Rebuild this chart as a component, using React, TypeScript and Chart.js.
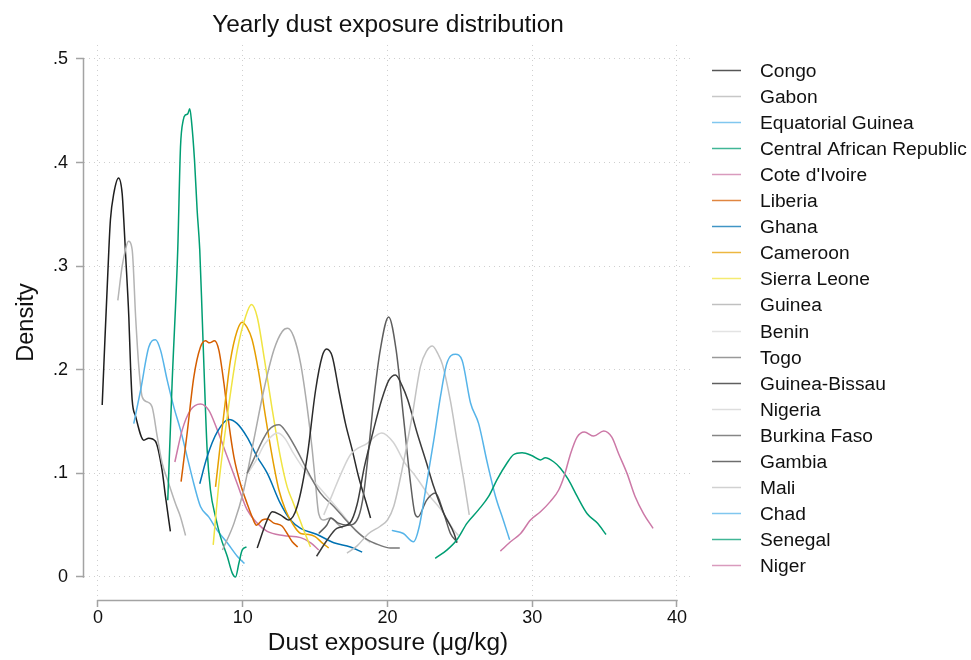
import React, { useEffect, useRef } from 'react';
import { Chart, registerables } from 'chart.js';

Chart.register(...registerables);

const FONT = "'Liberation Sans', Arial, Helvetica, sans-serif";

const seriesNames = [
  'Congo', 'Gabon', 'Equatorial Guinea', 'Central African Republic', "Cote d'Ivoire",
  'Liberia', 'Ghana', 'Cameroon', 'Sierra Leone', 'Guinea',
  'Benin', 'Togo', 'Guinea-Bissau', 'Nigeria', 'Burkina Faso',
  'Gambia', 'Mali', 'Chad', 'Senegal', 'Niger',
];

const seriesColors = [
  '#1e1e1e', '#b4b4b4', '#56B4E9', '#009E73', '#CC79A7',
  '#D55E00', '#0072B2', '#E69F00', '#F0E442', '#ababab',
  '#dadada', '#777777', '#2a2a2a', '#d2d2d2', '#5e5e5e',
  '#3c3c3c', '#c2c2c2', '#56B4E9', '#009E73', '#CC79A7',
];

type Pt = [number, number];

const congo: Pt[] = [[0.29, 0.166], [0.4, 0.203], [0.75, 0.316], [0.86, 0.345], [1.09, 0.37], [1.42, 0.385], [1.67, 0.37], [1.78, 0.345], [1.9, 0.313], [2.13, 0.251], [2.25, 0.203], [2.36, 0.171], [2.6, 0.155], [3.17, 0.132], [3.5, 0.134], [3.97, 0.131], [4.43, 0.103], [4.66, 0.078], [5.0, 0.044]];
const gabon: Pt[] = [[1.37, 0.267], [1.67, 0.3], [1.9, 0.316], [2.1, 0.324], [2.36, 0.316], [2.6, 0.251], [2.82, 0.203], [3.05, 0.174], [3.4, 0.169], [3.74, 0.164], [4.1, 0.135], [4.43, 0.11], [4.87, 0.091], [5.35, 0.071], [5.7, 0.058], [6.05, 0.04]];
const equatorialGuinea: Pt[] = [[2.47, 0.148], [2.94, 0.18], [3.51, 0.222], [3.97, 0.229], [4.32, 0.219], [4.78, 0.19], [5.24, 0.164], [5.7, 0.142], [6.16, 0.116], [6.62, 0.09], [7.08, 0.068], [7.65, 0.058], [8.24, 0.045], [8.93, 0.033], [9.62, 0.02], [10.12, 0.013]];
const centralAfricanRepublic: Pt[] = [[4.82, 0.074], [5.12, 0.187], [5.51, 0.316], [5.7, 0.415], [5.89, 0.441], [6.04, 0.446], [6.2, 0.447], [6.34, 0.452], [6.46, 0.44], [6.67, 0.402], [6.85, 0.354], [7.03, 0.316], [7.2, 0.251], [7.36, 0.187], [7.54, 0.123], [7.77, 0.084], [8.12, 0.058], [8.46, 0.039], [8.93, 0.02], [9.27, 0.004], [9.5, 0.0], [9.73, 0.013], [9.96, 0.026], [10.26, 0.029]];
const coteDIvoire: Pt[] = [[5.31, 0.111], [5.82, 0.142], [6.39, 0.161], [7.08, 0.167], [7.65, 0.161], [8.24, 0.142], [8.93, 0.116], [9.62, 0.09], [10.3, 0.065], [11.0, 0.052], [11.69, 0.044], [12.8, 0.04], [14.0, 0.038], [14.7, 0.033], [15.25, 0.026]];
const liberia: Pt[] = [[5.74, 0.092], [6.16, 0.139], [6.62, 0.193], [7.08, 0.222], [7.43, 0.228], [7.7, 0.226], [8.05, 0.228], [8.35, 0.219], [8.7, 0.187], [9.04, 0.148], [9.39, 0.116], [9.84, 0.09], [10.3, 0.071], [10.65, 0.058], [10.95, 0.05], [11.35, 0.055], [11.7, 0.056], [12.15, 0.052], [12.73, 0.049], [13.07, 0.042], [13.42, 0.034], [13.8, 0.029]];
const ghana: Pt[] = [[7.03, 0.09], [7.54, 0.116], [8.24, 0.14], [9.04, 0.152], [9.62, 0.148], [10.3, 0.135], [11.0, 0.116], [11.7, 0.1], [12.6, 0.071], [13.3, 0.055], [14.0, 0.047], [15.14, 0.041], [16.29, 0.033], [17.44, 0.029], [18.25, 0.024]];
const cameroon: Pt[] = [[8.12, 0.087], [8.46, 0.129], [8.81, 0.171], [9.15, 0.209], [9.62, 0.238], [9.96, 0.246], [10.3, 0.241], [10.65, 0.229], [11.11, 0.197], [11.57, 0.155], [12.04, 0.116], [12.5, 0.084], [12.95, 0.065], [13.42, 0.052], [14.0, 0.042], [14.56, 0.041], [15.0, 0.039], [15.49, 0.033], [15.94, 0.028]];
const sierraLeone: Pt[] = [[7.96, 0.031], [8.35, 0.09], [8.93, 0.155], [9.62, 0.219], [10.19, 0.251], [10.6, 0.263], [11.0, 0.251], [11.5, 0.21], [12.0, 0.165], [12.6, 0.116], [13.07, 0.087], [13.42, 0.074], [13.87, 0.058], [14.22, 0.045], [14.68, 0.029]];
const guinea: Pt[] = [[8.6, 0.026], [9.4, 0.052], [10.07, 0.084], [10.76, 0.132], [11.45, 0.18], [12.15, 0.219], [12.73, 0.237], [13.1, 0.24], [13.52, 0.232], [14.0, 0.206], [14.45, 0.164], [14.8, 0.123], [15.03, 0.09], [15.25, 0.061], [15.6, 0.055], [16.06, 0.057], [16.5, 0.052], [16.9, 0.047]];
const benin: Pt[] = [[10.35, 0.1], [10.9, 0.112], [11.5, 0.128], [12.0, 0.136], [12.4, 0.139], [12.9, 0.134], [13.52, 0.119], [14.33, 0.102], [15.25, 0.087], [16.06, 0.074], [16.8, 0.062], [17.5, 0.05], [18.2, 0.04], [18.8, 0.033]];
const togo: Pt[] = [[10.3, 0.1], [10.8, 0.115], [11.3, 0.13], [11.8, 0.142], [12.5, 0.147], [13.0, 0.14], [13.76, 0.122], [14.68, 0.097], [15.37, 0.081], [16.29, 0.068], [17.0, 0.057], [17.8, 0.045], [18.6, 0.036], [19.4, 0.031], [20.2, 0.028], [20.85, 0.028]];
const guineaBissau: Pt[] = [[11.0, 0.028], [11.69, 0.055], [12.04, 0.063], [12.6, 0.06], [13.18, 0.055], [13.76, 0.068], [14.45, 0.116], [15.03, 0.18], [15.49, 0.213], [15.79, 0.22], [16.18, 0.213], [16.64, 0.18], [17.1, 0.148], [17.56, 0.123], [18.0, 0.097], [18.48, 0.074], [18.83, 0.057]];
const nigeria: Pt[] = [[15.6, 0.06], [16.2, 0.08], [16.8, 0.1], [17.44, 0.118], [18.6, 0.129], [19.6, 0.139], [20.4, 0.13], [21.2, 0.11], [21.9, 0.098], [22.8, 0.08], [23.8, 0.063], [24.5, 0.047], [24.9, 0.04]];
const burkinaFaso: Pt[] = [[15.25, 0.042], [15.8, 0.05], [16.1, 0.057], [16.6, 0.052], [17.3, 0.05], [18.0, 0.058], [18.36, 0.081], [18.7, 0.123], [19.05, 0.171], [19.5, 0.219], [20.08, 0.251], [20.6, 0.219], [21.1, 0.155], [21.6, 0.09], [21.9, 0.061], [22.1, 0.058], [22.7, 0.074], [23.3, 0.081], [23.9, 0.061], [24.35, 0.042], [24.8, 0.034]];
const gambia: Pt[] = [[15.1, 0.02], [15.8, 0.035], [16.5, 0.047], [17.4, 0.052], [17.9, 0.07], [18.4, 0.106], [19.0, 0.14], [19.6, 0.171], [20.1, 0.19], [20.55, 0.195], [21.0, 0.185], [21.4, 0.171], [22.05, 0.139], [22.7, 0.11], [23.2, 0.087], [23.9, 0.061], [24.6, 0.042], [24.8, 0.033]];
const mali: Pt[] = [[17.2, 0.023], [17.9, 0.03], [18.7, 0.042], [19.5, 0.049], [20.0, 0.055], [20.43, 0.068], [21.0, 0.103], [21.7, 0.155], [22.28, 0.203], [22.7, 0.218], [23.1, 0.223], [23.5, 0.215], [23.8, 0.205], [24.35, 0.17], [24.8, 0.132], [25.27, 0.094], [25.65, 0.06]];
const chad: Pt[] = [[20.3, 0.045], [21.1, 0.042], [21.8, 0.034], [22.2, 0.049], [22.7, 0.09], [23.2, 0.132], [23.66, 0.174], [24.1, 0.206], [24.7, 0.215], [25.16, 0.209], [25.74, 0.168], [26.3, 0.148], [26.9, 0.11], [27.46, 0.078], [28.0, 0.055], [28.44, 0.036]];
const senegal: Pt[] = [[23.3, 0.018], [24.1, 0.026], [24.8, 0.036], [25.5, 0.052], [26.3, 0.065], [27.0, 0.078], [27.57, 0.094], [28.26, 0.11], [28.7, 0.118], [29.3, 0.12], [30.0, 0.117], [30.57, 0.113], [30.9, 0.115], [31.5, 0.111], [31.95, 0.105], [32.5, 0.094], [33.1, 0.078], [33.8, 0.061], [34.5, 0.052], [35.1, 0.041]];
const niger: Pt[] = [[27.8, 0.025], [28.5, 0.034], [29.2, 0.042], [29.88, 0.055], [30.57, 0.063], [31.26, 0.073], [31.83, 0.084], [32.2, 0.097], [32.65, 0.119], [33.1, 0.135], [33.6, 0.14], [34.25, 0.136], [34.94, 0.141], [35.5, 0.135], [35.97, 0.119], [36.55, 0.1], [37.1, 0.078], [37.7, 0.061], [38.35, 0.047]];

const seriesData: Pt[][] = [
  congo, gabon, equatorialGuinea, centralAfricanRepublic, coteDIvoire,
  liberia, ghana, cameroon, sierraLeone, guinea,
  benin, togo, guineaBissau, nigeria, burkinaFaso,
  gambia, mali, chad, senegal, niger,
];

const xTickValues = [0, 10, 20, 30, 40];
const xTickLabels = ['0', '10', '20', '30', '40'];
const yTickValues = [0, 0.1, 0.2, 0.3, 0.4, 0.5];
const yTickLabels = ['0', '.1', '.2', '.3', '.4', '.5'];

const titleText = 'Yearly dust exposure distribution';
const xTitle = 'Dust exposure (\u03bcg/kg)';
const yTitle = 'Density';

const axisLinePlugin = {
  id: 'stataAxisLines',
  beforeDatasetsDraw(chart: any) {
    const { ctx, chartArea, scales } = chart;
    ctx.save();
    ctx.strokeStyle = '#a3a3a3';
    ctx.lineWidth = 1.5;
    ctx.beginPath();
    const xa = scales.x.getPixelForValue(xTickValues[0]);
    const xb = scales.x.getPixelForValue(xTickValues[xTickValues.length - 1]);
    ctx.moveTo(xa - 0.75, chartArea.bottom + 0.5);
    ctx.lineTo(xb + 0.75, chartArea.bottom + 0.5);
    const ya = scales.y.getPixelForValue(yTickValues[0]);
    const yb = scales.y.getPixelForValue(yTickValues[yTickValues.length - 1]);
    ctx.moveTo(chartArea.left - 0.5, ya + 0.75);
    ctx.lineTo(chartArea.left - 0.5, yb - 0.75);
    ctx.stroke();
    ctx.restore();
  },
};

const legendPlugin = {
  id: 'sideLegend',
  afterDraw(chart: any) {
    const { ctx } = chart;
    const lineX0 = 712;
    const lineX1 = 741;
    const textX = 760;
    const y0 = 70;
    const step = 26.05;
    ctx.save();
    ctx.font = `19.2px ${FONT}`;
    ctx.textBaseline = 'middle';
    ctx.textAlign = 'left';
    chart.data.datasets.forEach((ds: any, i: number) => {
      const y = Math.round(y0 + i * step) + 0.5;
      ctx.globalAlpha = 0.75;
      ctx.strokeStyle = ds.borderColor;
      ctx.lineWidth = 1.5;
      ctx.beginPath();
      ctx.moveTo(lineX0, y);
      ctx.lineTo(lineX1, y);
      ctx.stroke();
      ctx.globalAlpha = 1;
      ctx.fillStyle = '#111';
      ctx.fillText(ds.label, textX, y + 1);
    });
    ctx.restore();
  },
};

export default function App() {
  const canvasRef = useRef<HTMLCanvasElement | null>(null);

  useEffect(() => {
    const canvas = canvasRef.current;
    if (!canvas) return;
    const n = seriesNames.length;
    const chart = new Chart(canvas, {
      type: 'line',
      data: {
        datasets: seriesNames.map((name, i) => ({
          label: name,
          data: seriesData[i].map(([x, y]) => ({ x, y })),
          borderColor: seriesColors[i],
          backgroundColor: seriesColors[i],
          borderWidth: 1.5,
          pointRadius: 0,
          pointHoverRadius: 0,
          fill: false,
          cubicInterpolationMode: 'monotone' as const,
          order: n - i,
        })),
      },
      plugins: [axisLinePlugin, legendPlugin],
      options: {
        responsive: false,
        animation: false,
        devicePixelRatio: 1,
        layout: { padding: { left: 0, right: 279, top: 0, bottom: 0 } },
        plugins: {
          legend: { display: false },
          tooltip: { enabled: false },
          title: {
            display: true,
            text: titleText,
            color: '#111',
            fullSize: false,
            font: { family: FONT, size: 24.4, weight: 'normal', lineHeight: 1.2 },
            padding: { top: 11, bottom: 4.7 },
          },
        },
        scales: {
          x: {
            type: 'linear',
            min: -0.967,
            max: 41.04,
            afterBuildTicks: (scale: any) => {
              scale.ticks = xTickValues.map((v) => ({ value: v }));
            },
            afterFit: (scale: any) => {
              scale.height = 60;
            },
            ticks: {
              autoSkip: false,
              maxRotation: 0,
              padding: 0,
              color: '#111',
              font: { family: FONT, size: 18 },
              callback: (_v: any, i: number) => xTickLabels[i],
            },
            grid: {
              color: '#cfcfcf',
              lineWidth: 1,
              tickColor: '#a3a3a3',
              tickLength: 7,
              tickWidth: 1.5,
              tickBorderDash: [],
            },
            border: { display: false, dash: [1, 4] },
            title: {
              display: true,
              text: xTitle,
              color: '#111',
              font: { family: FONT, size: 24.4 },
              padding: { top: 0, bottom: 2 },
            },
          },
          y: {
            type: 'linear',
            min: -0.0222,
            max: 0.5135,
            afterBuildTicks: (scale: any) => {
              scale.ticks = yTickValues.map((v) => ({ value: v }));
            },
            afterFit: (scale: any) => {
              scale.width = 84;
            },
            ticks: {
              autoSkip: false,
              padding: 8,
              color: '#111',
              font: { family: FONT, size: 18 },
              callback: (_v: any, i: number) => yTickLabels[i],
            },
            grid: {
              color: '#cfcfcf',
              lineWidth: 1,
              tickColor: '#a3a3a3',
              tickLength: 8,
              tickWidth: 1.5,
              tickBorderDash: [],
            },
            border: { display: false, dash: [1, 4] },
            title: {
              display: true,
              text: yTitle,
              color: '#111',
              font: { family: FONT, size: 23.5 },
              padding: { top: 12, bottom: 0 },
            },
          },
        },
      } as any,
    });
    return () => chart.destroy();
  }, []);

  return (
    <div style={{ position: 'absolute', left: 0, top: 0, width: 971, height: 660, background: '#fff' }}>
      <canvas ref={canvasRef} width={971} height={660} style={{ width: 971, height: 660, display: 'block' }} />
    </div>
  );
}
